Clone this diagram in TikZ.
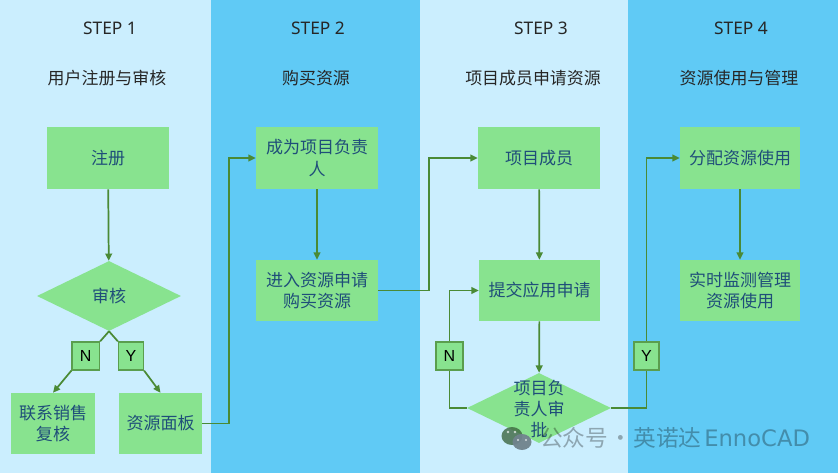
\documentclass[tikz,border=0pt]{standalone}
\usepackage{fontspec}
\setmainfont{Noto Sans}
\newfontfamily\cjk{Noto Sans CJK SC}
\newfontfamily\lat{Liberation Sans}
\newfontfamily\dv{DejaVu Sans}
\usetikzlibrary{shapes.geometric,arrows.meta,calc}
\definecolor{bgl}{HTML}{CBEEFE}
\definecolor{bgd}{HTML}{60CAF5}
\definecolor{gfill}{HTML}{88E38F}
\definecolor{gline}{HTML}{4A8A35}
\definecolor{tagline}{HTML}{5A9E4E}
\definecolor{ink}{HTML}{1F4E79}
\tikzset{
  x=0.75pt,y=-0.75pt,
  band/.style={fill=#1,draw=none},
  flowbox/.style={fill=gfill,draw=none,inner sep=0pt,align=center,text=ink,font=\fontsize{12.75pt}{16pt}\selectfont\cjk},
  decision/.style={diamond,fill=gfill,draw=none,inner sep=0pt,aspect=2.05,minimum width=108pt,minimum height=52.5pt},
  dectext/.style={align=center,text=ink,inner sep=0pt,font=\fontsize{12.75pt}{16pt}\selectfont\cjk},
  tag/.style={fill=gfill,draw=tagline,line width=1pt,inner sep=0pt,font=\fontsize{12pt}{14pt}\selectfont\lat,text=black},
  flow/.style={draw=gline,line width=1.3pt},
  arr/.style={flow,-{Triangle[length=5.5pt,width=5pt]}},
  steptitle/.style={inner sep=0pt,text=black!85,font=\fontsize{13pt}{15pt}\selectfont},
  subtitle/.style={inner sep=0pt,text=black!85,font=\fontsize{12.7pt}{15pt}\selectfont\cjk},
  wm/.style={inner sep=0pt,anchor=west,text=black,text opacity=.3,font=\fontsize{17pt}{20pt}\selectfont},
}
\newcommand\bx[6]{%
  \pgfmathsetmacro\bw{(#4-#2)*0.75}%
  \pgfmathsetmacro\bh{(#5-#3)*0.75}%
  \node[flowbox,minimum width=\bw pt,minimum height=\bh pt] (#1) at ({(#2+#4)/2},{(#3+#5)/2}) {#6};}
\newcommand\tg[6]{%
  \pgfmathsetmacro\bw{(#4-#2)*0.75}%
  \pgfmathsetmacro\bh{(#5-#3)*0.75}%
  \node[tag,minimum width=\bw pt,minimum height=\bh pt] (#1) at ({(#2+#4)/2},{(#3+#5)/2}) {#6};}
\begin{document}
\begin{tikzpicture}
\useasboundingbox (0,0) rectangle (838,473);
\fill[band=bgl] (0,0) rectangle (211,473);
\fill[band=bgd] (211,0) rectangle (420,473);
\fill[band=bgl] (420,0) rectangle (628,473);
\fill[band=bgd] (628,0) rectangle (838,473);

\node[steptitle] (s1) at (110,28) {STEP 1};
\node[steptitle] (s2) at (318,28) {STEP 2};
\node[steptitle] (s3) at (541,28) {STEP 3};
\node[steptitle] (s4) at (741,28) {STEP 4};
\node[subtitle] (t1) at (107,78) {用户注册与审核};
\node[subtitle] (t2) at (316,78) {购买资源};
\node[subtitle] (t3) at (533,78) {项目成员申请资源};
\node[subtitle] (t4) at (739,78) {资源使用与管理};

\bx{reg}{47}{127}{169}{189}{注册}
\node[decision] (d1) at (109,296) {};
\node[dectext] (d1t) at (d1) {审核};
\bx{sales}{11}{393}{95}{454}{联系销售\\复核}
\bx{res}{119}{393}{202}{454}{资源面板}
\tg{n1}{72}{342}{99.5}{370}{N}
\tg{y1}{118.5}{342}{143.5}{370}{Y}

\bx{lead}{256}{127}{378}{189}{成为项目负责\\人}
\bx{buy}{256}{260}{378}{321}{进入资源申请\\购买资源}

\bx{mem}{478}{127}{600}{189}{项目成员}
\bx{sub}{479}{260}{600}{321}{提交应用申请}
\node[decision] (d3) at (539,408) {};
\node[dectext] (d3t) at (539,409) {项目负\\责人审\\批};
\tg{n3}{436}{342}{463}{370}{N}
\tg{y3}{634}{342}{659}{370}{Y}

\bx{alloc}{680}{127}{800}{189}{分配资源使用}
\bx{mon}{680}{260}{800}{321}{实时监测管理\\资源使用}

\coordinate (v1) at (229,300);
\coordinate (v2) at (429,300);

\draw[arr] (reg) -- (d1);
\draw[flow] (d1.south) -- (n1.north east);
\draw[flow] (d1.south) -- (y1.north west);
\draw[arr] (n1.south west) -- (sales.north);
\draw[arr] (y1.south east) -- (res.north);
\draw[arr] (res.east) -- (res.east -| v1) |- (lead.west);
\draw[arr] (lead) -- (buy);
\draw[arr] (buy.east) -- (buy.east -| v2) |- (mem.west);
\draw[arr] (mem) -- (sub);
\draw[arr] (sub) -- (d3);
\draw[flow] (d3.west) -| (n3.south);
\draw[arr] (n3.north) |- (sub.west);
\draw[flow] (d3.east) -| (y3.south);
\draw[arr] (y3.north) |- (alloc.west);
\draw[arr] (alloc) -- (mon);

% watermark
\fill[fill=black!55!gfill,fill opacity=.8] (512,436) ellipse [x radius=10.5,y radius=9];
\fill[fill=black!45!bgl,fill opacity=.95] (522,442) ellipse [x radius=9.5,y radius=8];
\fill[white,fill opacity=.7] (508,432) circle (1.3) (515,432) circle (1.3) (518,440) circle (1.2) (526,440) circle (1.2);
\node[wm] (wmt) at (540,438) {{\cjk 公众号\hspace{1pt}·\hspace{1pt}英诺达}\hspace{2pt}{\dv EnnoCAD}};
\end{tikzpicture}
\end{document}
